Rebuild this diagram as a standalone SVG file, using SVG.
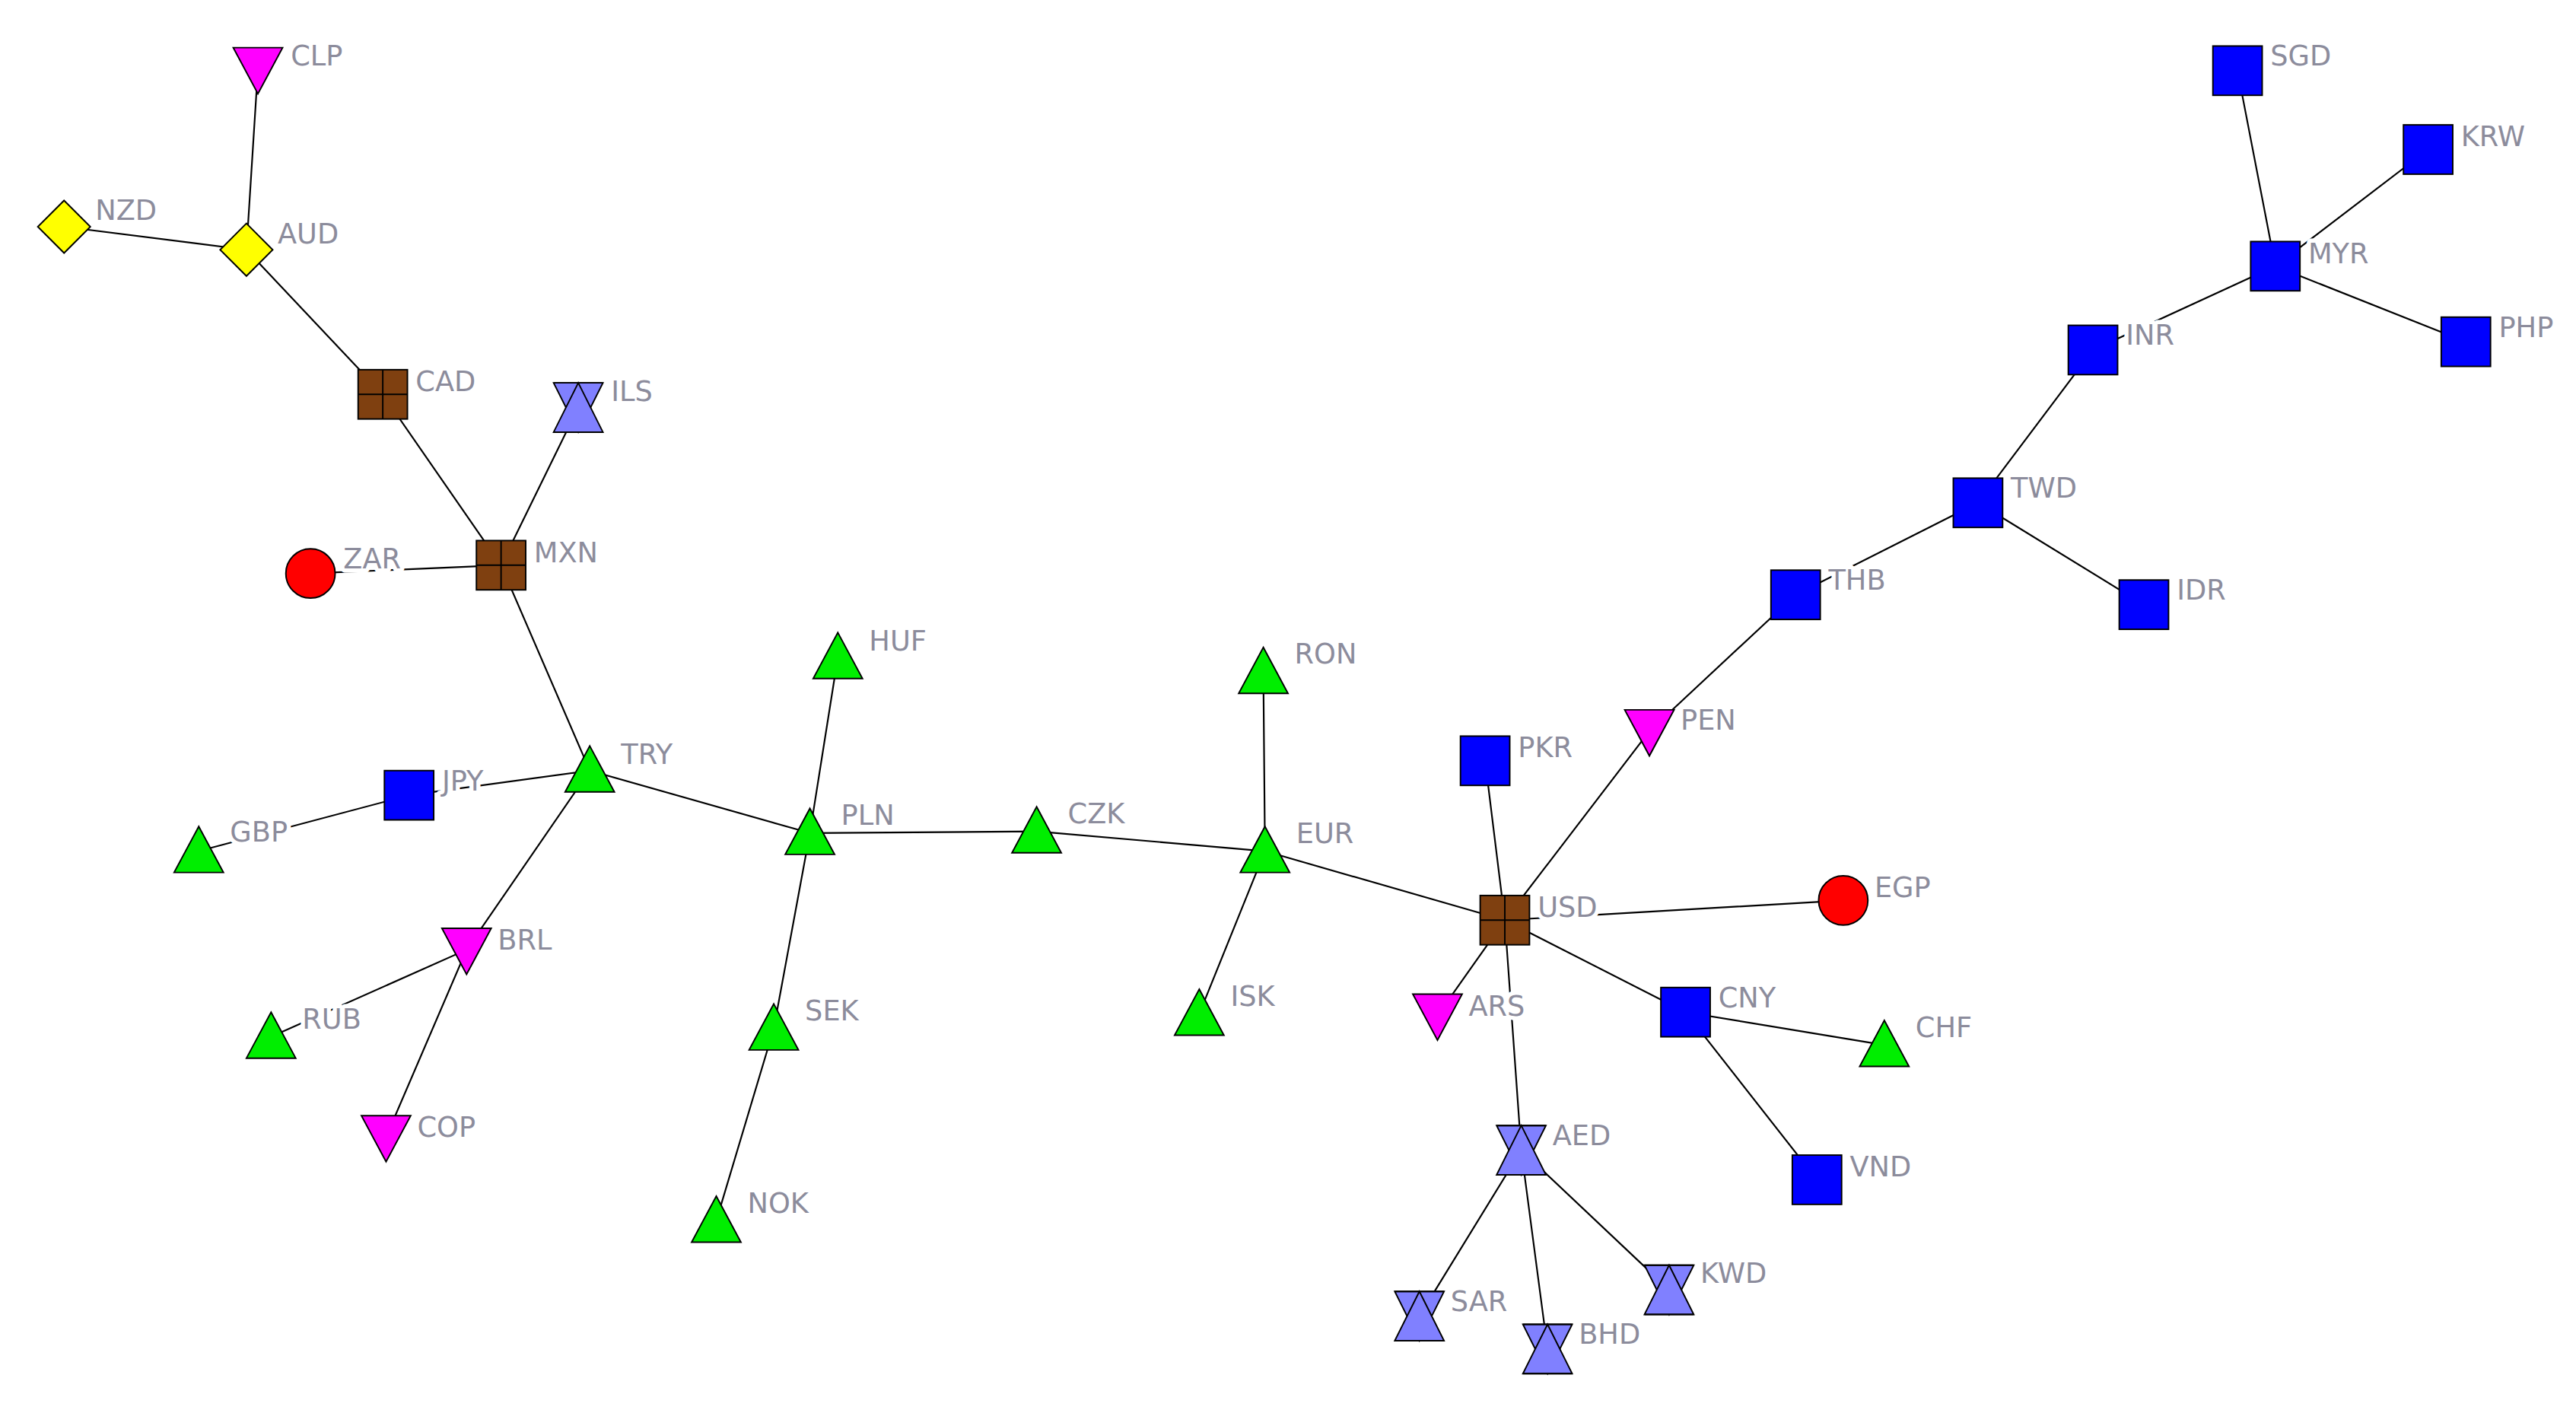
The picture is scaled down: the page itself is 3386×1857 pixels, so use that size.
<svg xmlns="http://www.w3.org/2000/svg" xmlns:xlink="http://www.w3.org/1999/xlink" width="3386" height="1857" viewBox="0 0 3386 1857">
<style>
.e{stroke:#000;stroke-width:1;fill:none}
.s{stroke:#000;stroke-width:0.9}
text{font-family:"DejaVu Sans",sans-serif;font-size:17px;fill:#8c8c9c;stroke:#fff;stroke-width:5;paint-order:stroke;stroke-linejoin:round}
</style>
<defs>
<g id="sq"><rect class="s" x="-15" y="-15" width="30" height="30" fill="#0000ff"/></g>
<g id="gr"><rect class="s" x="-15" y="-15" width="30" height="30" fill="#7f4010"/><path class="s" d="M0,-15V15M-15,0H15"/></g>
<g id="tu"><polygon class="s" points="0,-15 15,13 -15,13" fill="#00ee00"/></g>
<g id="td"><polygon class="s" points="-15,-13 15,-13 0,15" fill="#ff00ff"/></g>
<g id="di"><polygon class="s" points="0,-16 16,0 0,16 -16,0" fill="#ffff00"/></g>
<g id="ci"><circle class="s" r="15" fill="#ff0000"/></g>
<g id="hg"><polygon class="s" points="-15,-15 15,-15 0,15" fill="#8080ff"/><polygon class="s" points="-15,15 15,15 0,-15" fill="#8080ff"/><path class="s" d="M-15,-15H15M-15,15H15"/></g>
</defs>
<rect width="3386" height="1857" fill="#fff"/>
<g transform="scale(2.1594)">
<g id="connectors" class="e">
<path d="M157,42L150,152M39,138L150,152M150,152L233,240M233,240L305,344M352,248L305,344M189,349L305,344M305,344L359,469M359,469L249,484M249,484L121,518M359,469L284,578M284,578L165,631M284,578L235,692M359,469L493,507M493,507L510,400M493,507L471,626M471,626L436,743M493,507L631,506M631,506L770,518M770,518L769,409M770,518L730,617M770,518L916,560M916,560L904,463M916,560L1004,445M1004,445L1093,362M1093,362L1204,306M1204,306L1305,368M1204,306L1274,213M1274,213L1385,162M1385,162L1362,43M1385,162L1478,91M1385,162L1501,208M916,560L1122,548M916,560L875,618M916,560L1026,616M1026,616L1147,636M1026,616L1106,718M916,560L926,700M926,700L864,801M926,700L942,821M926,700L1016,785"/>
</g>
<g id="CLP"><use href="#td" x="157" y="42"/><text x="177" y="40">CLP</text></g>
<g id="NZD"><use href="#di" x="39" y="138"/><text x="58" y="134">NZD</text></g>
<g id="AUD"><use href="#di" x="150" y="152"/><text x="169" y="148">AUD</text></g>
<g id="CAD"><use href="#gr" x="233" y="240"/><text x="253" y="238">CAD</text></g>
<g id="ILS"><use href="#hg" x="352" y="248"/><text x="372" y="244">ILS</text></g>
<g id="ZAR"><use href="#ci" x="189" y="349"/><text x="209" y="346">ZAR</text></g>
<g id="MXN"><use href="#gr" x="305" y="344"/><text x="325" y="342">MXN</text></g>
<g id="HUF"><use href="#tu" x="510" y="400"/><text x="529" y="396">HUF</text></g>
<g id="TRY"><use href="#tu" x="359" y="469"/><text x="378" y="465">TRY</text></g>
<g id="JPY"><use href="#sq" x="249" y="484"/><text x="269" y="481">JPY</text></g>
<g id="GBP"><use href="#tu" x="121" y="518"/><text x="140" y="512">GBP</text></g>
<g id="PLN"><use href="#tu" x="493" y="507"/><text x="512" y="502">PLN</text></g>
<g id="CZK"><use href="#tu" x="631" y="506"/><text x="650" y="501">CZK</text></g>
<g id="RON"><use href="#tu" x="769" y="409"/><text x="788" y="404">RON</text></g>
<g id="EUR"><use href="#tu" x="770" y="518"/><text x="789" y="513">EUR</text></g>
<g id="ISK"><use href="#tu" x="730" y="617"/><text x="749" y="612">ISK</text></g>
<g id="BRL"><use href="#td" x="284" y="578"/><text x="303" y="578">BRL</text></g>
<g id="RUB"><use href="#tu" x="165" y="631"/><text x="184" y="626">RUB</text></g>
<g id="COP"><use href="#td" x="235" y="692"/><text x="254" y="692">COP</text></g>
<g id="SEK"><use href="#tu" x="471" y="626"/><text x="490" y="621">SEK</text></g>
<g id="NOK"><use href="#tu" x="436" y="743"/><text x="455" y="738">NOK</text></g>
<g id="PKR"><use href="#sq" x="904" y="463"/><text x="924" y="461">PKR</text></g>
<g id="PEN"><use href="#td" x="1004" y="445"/><text x="1023" y="444">PEN</text></g>
<g id="USD"><use href="#gr" x="916" y="560"/><text x="936" y="558">USD</text></g>
<g id="EGP"><use href="#ci" x="1122" y="548"/><text x="1141" y="546">EGP</text></g>
<g id="ARS"><use href="#td" x="875" y="618"/><text x="894" y="618">ARS</text></g>
<g id="CNY"><use href="#sq" x="1026" y="616"/><text x="1046" y="613">CNY</text></g>
<g id="CHF"><use href="#tu" x="1147" y="636"/><text x="1166" y="631">CHF</text></g>
<g id="VND"><use href="#sq" x="1106" y="718"/><text x="1126" y="716">VND</text></g>
<g id="AED"><use href="#hg" x="926" y="700"/><text x="945" y="697">AED</text></g>
<g id="SAR"><use href="#hg" x="864" y="801"/><text x="883" y="798">SAR</text></g>
<g id="BHD"><use href="#hg" x="942" y="821"/><text x="961" y="818">BHD</text></g>
<g id="KWD"><use href="#hg" x="1016" y="785"/><text x="1035" y="781">KWD</text></g>
<g id="THB"><use href="#sq" x="1093" y="362"/><text x="1113" y="359">THB</text></g>
<g id="TWD"><use href="#sq" x="1204" y="306"/><text x="1224" y="303">TWD</text></g>
<g id="IDR"><use href="#sq" x="1305" y="368"/><text x="1325" y="365">IDR</text></g>
<g id="INR"><use href="#sq" x="1274" y="213"/><text x="1294" y="210">INR</text></g>
<g id="MYR"><use href="#sq" x="1385" y="162"/><text x="1405" y="160">MYR</text></g>
<g id="SGD"><use href="#sq" x="1362" y="43"/><text x="1382" y="40">SGD</text></g>
<g id="KRW"><use href="#sq" x="1478" y="91"/><text x="1498" y="89">KRW</text></g>
<g id="PHP"><use href="#sq" x="1501" y="208"/><text x="1521" y="205">PHP</text></g>
</g>
</svg>
